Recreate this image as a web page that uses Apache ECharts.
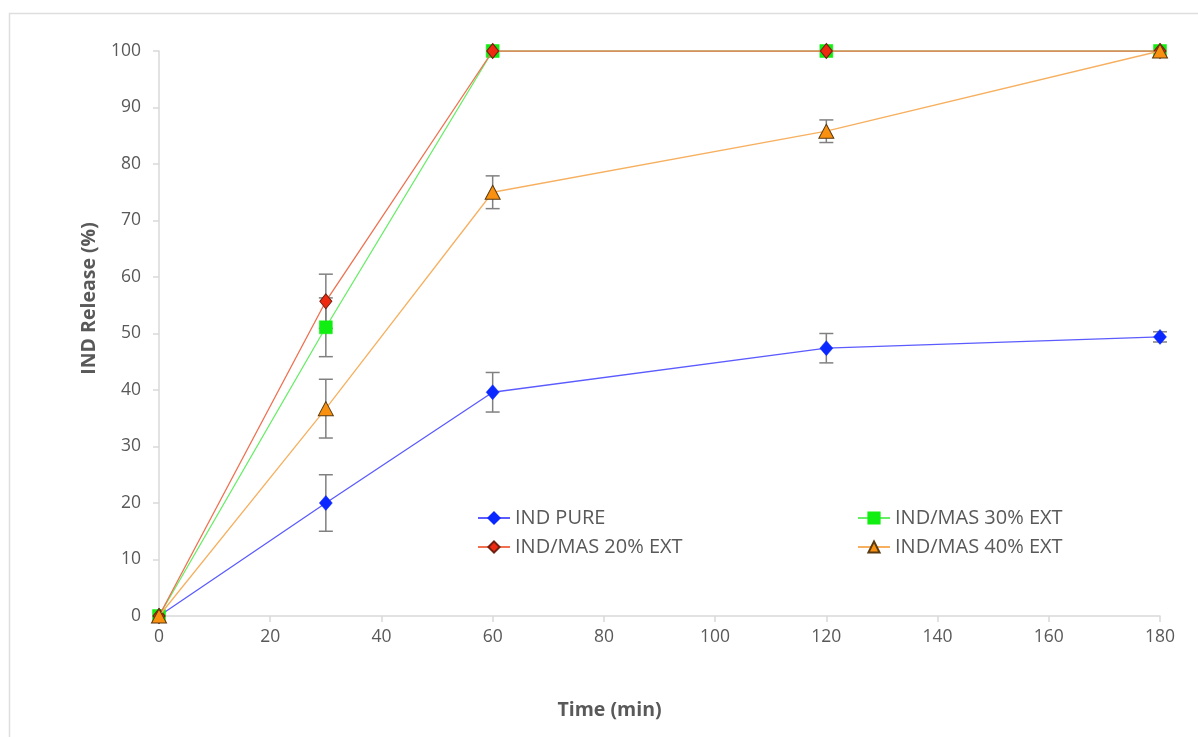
<!DOCTYPE html>
<html><head><meta charset="utf-8">
<script src="https://cdn.jsdelivr.net/npm/echarts@6/dist/echarts.min.js"></script>
<style>html,body{margin:0;padding:0;background:#fff}#c{width:1198px;height:737px}</style>
</head><body><div id="c"></div>
<script>
const times = [0, 30, 60, 120, 180];
const pureVals = [0, 20.0, 39.6, 47.4, 49.4];
const pureErr = [0, 5.0, 3.5, 2.6, 0.9];
const mas20Vals = [0, 55.7, 100, 100, 100];
const mas20Err = [0, 4.8, 0, 0, 0];
const mas30Vals = [0, 51.1, 100, 100, 100];
const mas30Err = [0, 5.2, 0, 0, 0];
const mas40Vals = [0, 36.7, 75.0, 85.8, 100];
const mas40Err = [0, 5.2, 2.9, 2.0, 0];
const xTicks = [0, 20, 40, 60, 80, 100, 120, 140, 160, 180];
const yTicks = [0, 10, 20, 30, 40, 50, 60, 70, 80, 90, 100];

const names = ['IND PURE', 'IND/MAS 20% EXT', 'IND/MAS 30% EXT', 'IND/MAS 40% EXT'];
const txt = '#595959';
const font = "'Open Sans', 'Noto Sans', sans-serif";

function pairs(v) { return times.map((t, i) => [t, v[i]]); }
function errData(v, e) {
  const out = [];
  times.forEach((t, i) => { if (e[i] > 0) out.push([t, v[i] - e[i], v[i] + e[i]]); });
  return out;
}
function errSeries(v, e, z) {
  return {
    type: 'custom', z: z, silent: true,
    data: errData(v, e),
    encode: { x: 0, y: [1, 2] },
    renderItem: function (params, api) {
      const x = api.value(0);
      const lo = api.coord([x, api.value(1)]);
      const hi = api.coord([x, api.value(2)]);
      const w = 7;
      const st = { stroke: '#808080', lineWidth: 1.5 };
      return {
        type: 'group', children: [
          { type: 'line', shape: { x1: lo[0], y1: lo[1], x2: hi[0], y2: hi[1] }, style: st },
          { type: 'line', shape: { x1: lo[0] - w, y1: lo[1], x2: lo[0] + w, y2: lo[1] }, style: st },
          { type: 'line', shape: { x1: hi[0] - w, y1: hi[1], x2: hi[0] + w, y2: hi[1] }, style: st }
        ]
      };
    }
  };
}

const chart = echarts.init(document.getElementById('c'));
chart.setOption({
  backgroundColor: '#fff',
  animation: false,
  textStyle: { fontFamily: font },
  graphic: [{
    type: 'polyline', silent: true,
    shape: { points: [[9.5, 740], [9.5, 13.5], [1200, 13.5]] },
    style: { stroke: '#dedede', lineWidth: 1.5, fill: null }
  }],
  grid: { left: 159, right: 38, top: 51, bottom: 121 },
  xAxis: {
    type: 'value', min: 0, max: 180, interval: 20,
    name: 'Time (min)', nameLocation: 'middle', nameGap: 84,
    nameTextStyle: { color: txt, fontSize: 19.5, fontWeight: 'bold', fontFamily: font, padding: [0, 100, 0, 0] },
    axisLine: { lineStyle: { color: '#d9d9d9', width: 1.5 } },
    axisTick: { show: true, length: 6, lineStyle: { color: '#d9d9d9', width: 1.5 } },
    axisLabel: { color: txt, fontSize: 17.5, margin: 12, fontFamily: font,
      formatter: v => xTicks.includes(v) ? String(v) : '' },
    splitLine: { show: false }
  },
  yAxis: {
    type: 'value', min: 0, max: 100, interval: 10,
    name: 'IND Release (%)', nameLocation: 'middle', nameGap: 60, nameRotate: 90,
    nameTextStyle: { color: txt, fontSize: 19.5, fontWeight: 'bold', fontFamily: font, padding: [0, 0, 0, 70] },
    axisLine: { show: true, lineStyle: { color: '#d9d9d9', width: 1.5 } },
    axisTick: { show: true, length: 6, lineStyle: { color: '#d9d9d9', width: 1.5 } },
    axisLabel: { color: txt, fontSize: 17.5, margin: 18, fontFamily: font,
      formatter: v => yTicks.includes(v) ? String(v) : '' },
    splitLine: { show: false }
  },
  legend: [{
    orient: 'vertical', left: 472, top: 503, itemGap: 9, itemWidth: 32, itemHeight: 14,
    textStyle: { color: txt, fontSize: 20, fontFamily: font },
    data: [names[0], names[1]]
  }, {
    orient: 'vertical', left: 852, top: 503, itemGap: 9, itemWidth: 32, itemHeight: 14,
    textStyle: { color: txt, fontSize: 20, fontFamily: font },
    data: [names[2], names[3]]
  }],
  series: [
    errSeries(pureVals, pureErr, 1),
    errSeries(mas30Vals, mas30Err, 1),
    errSeries(mas20Vals, mas20Err, 1),
    errSeries(mas40Vals, mas40Err, 1),
    {
      name: names[0], type: 'line', z: 3, data: pairs(pureVals),
      symbol: 'diamond', symbolSize: [13, 15],
      lineStyle: { color: '#5b5bff', width: 1.3 },
      itemStyle: { color: '#0a28ff', borderColor: '#0a28ff', borderWidth: 0.5 }
    },
    {
      name: names[2], type: 'line', z: 4, data: pairs(mas30Vals),
      symbol: 'rect', symbolSize: 13,
      lineStyle: { color: '#66ee66', width: 1.3 },
      itemStyle: { color: '#11ee11', borderColor: '#11ee11', borderWidth: 0.5 }
    },
    {
      name: names[1], type: 'line', z: 5, data: pairs(mas20Vals),
      symbol: 'diamond', symbolSize: [12, 15],
      lineStyle: { color: '#f07050', width: 1.3 },
      itemStyle: { color: '#ee2a10', borderColor: '#702010', borderWidth: 1 }
    },
    {
      name: names[3], type: 'line', z: 6, data: pairs(mas40Vals),
      symbol: 'triangle', symbolSize: [15, 14],
      lineStyle: { color: '#f7b060', width: 1.3 },
      itemStyle: { color: '#fa9010', borderColor: '#5a3a10', borderWidth: 1 }
    }
  ]
});
</script></body></html>
